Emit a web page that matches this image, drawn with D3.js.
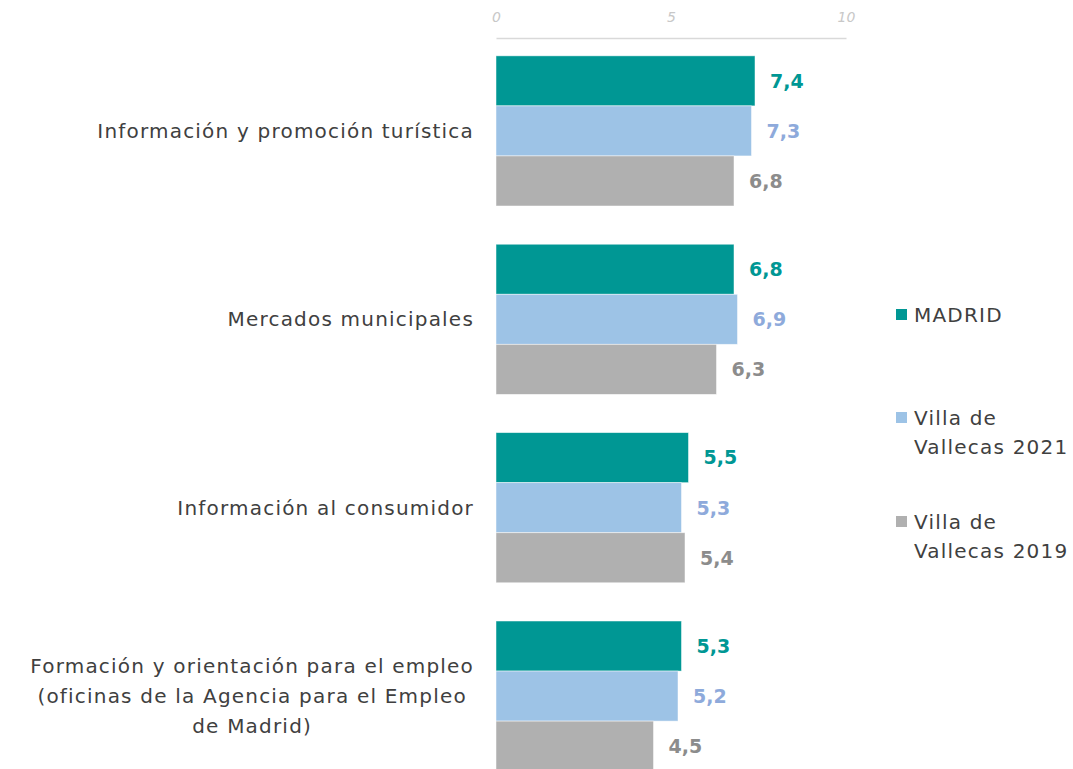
<!DOCTYPE html>
<html>
<head>
<meta charset="utf-8">
<script src="https://cdn.jsdelivr.net/npm/d3@7"></script>
<style>
  body { margin: 0; background: #fff; }
  svg text { font-family: "DejaVu Sans", sans-serif; }
</style>
</head>
<body>
<div id="chart"></div>
<script>
var categories = [
  "Información y promoción turística",
  "Mercados municipales",
  "Información al consumidor",
  "Formación y orientación para el empleo (oficinas de la Agencia para el Empleo de Madrid)"
];
var categoryLines = [
  ["Información y promoción turística"],
  ["Mercados municipales"],
  ["Información al consumidor"],
  ["Formación y orientación para el empleo", "(oficinas de la Agencia para el Empleo", "de Madrid)"]
];
var seriesNames = ["MADRID", "Villa de Vallecas 2021", "Villa de Vallecas 2019"];
var legendLines = [["MADRID"], ["Villa de", "Vallecas 2021"], ["Villa de", "Vallecas 2019"]];
var madrid = [7.4, 6.8, 5.5, 5.3];
var vallecas2021 = [7.3, 6.9, 5.3, 5.2];
var vallecas2019 = [6.8, 6.3, 5.4, 4.5];
var tickValues = [0, 5, 10];

var width = 1073, height = 769;
var barColors = ["#009794", "#9dc3e6", "#b0b0b0"];
var labelColors = ["#009794", "#8eaadb", "#8c8c8c"];

var series = [madrid, vallecas2021, vallecas2019];
var data = categories.map(function (c, i) {
  return { cat: c, lines: categoryLines[i], values: series.map(function (s, j) { return { key: seriesNames[j], idx: j, value: s[i] }; }) };
});

var fmt = d3.formatLocale({ decimal: ",", thousands: ".", grouping: [3], currency: ["", "€"] }).format(".1f");

var svg = d3.select("#chart").append("svg")
  .attr("width", width)
  .attr("height", height);

var x = d3.scaleLinear().domain([0, 10]).range([496, 846]);
var y0 = d3.scaleBand().domain(categories).range([37, 790]).paddingInner(0.203).paddingOuter(0.1);
var y1 = d3.scaleBand().domain(seriesNames).range([0, y0.bandwidth()]);

// axis on top
var axis = svg.append("g")
  .attr("transform", "translate(0,38)")
  .call(d3.axisTop(x).tickValues(tickValues).tickSize(0).tickPadding(16));
axis.select(".domain").attr("stroke", "#d9d9d9").attr("stroke-width", 1.3);
axis.selectAll("text")
  .attr("fill", "#c8c8c8")
  .style("font-size", "14px")
  .style("font-style", "italic");

var groups = svg.selectAll(".group")
  .data(data)
  .enter().append("g")
  .attr("class", "group")
  .attr("transform", function (d) { return "translate(0," + y0(d.cat) + ")"; });

groups.selectAll("rect")
  .data(function (d) { return d.values; })
  .enter().append("rect")
  .attr("x", x(0))
  .attr("y", function (d) { return y1(d.key); })
  .attr("width", function (d) { return x(d.value) - x(0); })
  .attr("height", y1.bandwidth())
  .attr("fill", function (d) { return barColors[d.idx]; })
  .attr("stroke", "#ffffff")
  .attr("stroke-opacity", 0.6)
  .attr("stroke-width", 0.8);

groups.selectAll(".val")
  .data(function (d) { return d.values; })
  .enter().append("text")
  .attr("class", "val")
  .attr("x", function (d) { return x(d.value) + 15; })
  .attr("y", function (d) { return y1(d.key) + y1.bandwidth() / 2; })
  .attr("dy", "0.36em")
  .attr("fill", function (d) { return labelColors[d.idx]; })
  .style("font-size", "19px")
  .style("font-weight", "bold")
  .text(function (d) { return fmt(d.value); });

// category labels: block centred, block right aligned to 474
groups.each(function (d) {
  var g = d3.select(this);
  var lineH = 30;
  var cy = y0.bandwidth() / 2;
  var t = g.append("text")
    .attr("fill", "#404040")
    .style("font-size", "20px")
    .style("letter-spacing", "1.2px")
    .attr("text-anchor", "middle");
  d.lines.forEach(function (line, k) {
    t.append("tspan")
      .attr("y", cy + (k - (d.lines.length - 1) / 2) * lineH)
      .attr("dy", "0.36em")
      .text(line);
  });
  var maxW = 0;
  t.selectAll("tspan").each(function () { maxW = Math.max(maxW, this.getComputedTextLength()); });
  t.selectAll("tspan").attr("x", 474 - maxW / 2);
});

// legend
var legend = svg.append("g").attr("transform", "translate(896,0)");
var legendY = [315, 418, 522];
legendLines.forEach(function (lines, i) {
  var lg = legend.append("g").attr("transform", "translate(0," + legendY[i] + ")");
  lg.append("rect")
    .attr("x", 0).attr("y", -6)
    .attr("width", 11).attr("height", 11)
    .attr("fill", barColors[i]);
  var t = lg.append("text")
    .attr("fill", "#404040")
    .style("font-size", "20px")
    .style("letter-spacing", "1.2px");
  lines.forEach(function (line, k) {
    t.append("tspan").attr("x", 18).attr("y", k * 29).attr("dy", "0.36em").text(line);
  });
});
</script>
</body>
</html>
